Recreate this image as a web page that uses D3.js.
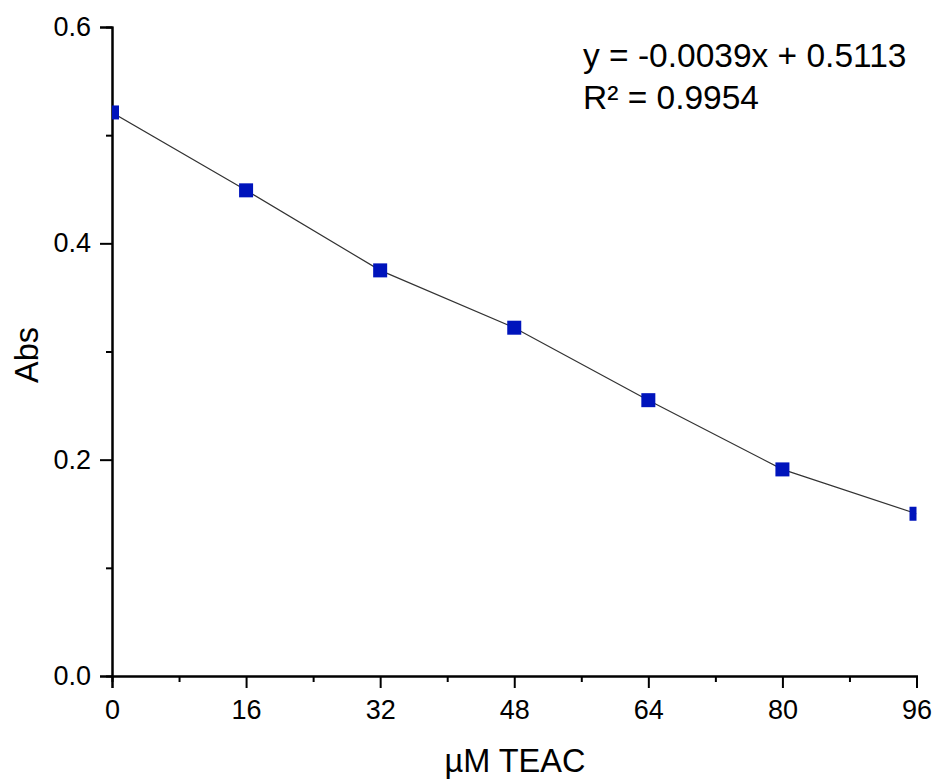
<!DOCTYPE html>
<html><head><meta charset="utf-8">
<script src="https://cdn.jsdelivr.net/npm/d3@7"></script>
<style>body{margin:0;background:#fff}svg{display:block}text{font-family:"Liberation Sans",Arial,sans-serif;fill:#000}</style>
</head><body>
<script>
const xValues = [0, 16, 32, 48, 64, 80, 96];
const absValues = [0.521, 0.449, 0.375, 0.322, 0.255, 0.191, 0.150];
const xTicks = [0, 16, 32, 48, 64, 80, 96];
const xMinorTicks = [8, 24, 40, 56, 72, 88];
const yTicks = [0.0, 0.2, 0.4, 0.6];
const yMinorTicks = [0.1, 0.3, 0.5];
const equationLines = ["y = -0.0039x + 0.5113", "R² = 0.9954"];

const W = 937, H = 781;
const svg = d3.select("body").append("svg").attr("width", W).attr("height", H);
const x = d3.scaleLinear().domain([0, 96]).range([112, 916.5]);
const y = d3.scaleLinear().domain([0, 0.6]).range([676, 27]);

svg.append("defs").append("clipPath").attr("id", "clip")
  .append("rect").attr("x", 112).attr("y", 20).attr("width", 916.5 - 112).attr("height", 676 - 20);

const gx = svg.append("g").attr("transform", "translate(0,676)")
  .call(d3.axisBottom(x).tickValues(xTicks).tickSize(12).tickPadding(12).tickFormat(d3.format("d")));
gx.append("g").call(d3.axisBottom(x).tickValues(xMinorTicks).tickSize(6).tickFormat(""));
const gy = svg.append("g").attr("transform", "translate(112,0)")
  .call(d3.axisLeft(y).tickValues(yTicks).tickSize(12).tickPadding(9).tickFormat(d3.format(".1f")));
gy.append("g").call(d3.axisLeft(y).tickValues(yMinorTicks).tickSize(6).tickFormat(""));

svg.selectAll(".domain").attr("stroke", "#000").attr("stroke-width", 2);
svg.selectAll(".tick line").attr("stroke", "#000").attr("stroke-width", 2);
svg.selectAll(".tick text").style("font-size", "27px").attr("fill", "#000");
gx.selectAll(".tick text").attr("dy", "0.71em");

const data = xValues.map((v, i) => ({x: v, y: absValues[i]}));
const plot = svg.append("g").attr("clip-path", "url(#clip)");
plot.append("path").datum(data)
  .attr("fill", "none").attr("stroke", "#333").attr("stroke-width", 1.2)
  .attr("d", d3.line().x(d => x(d.x)).y(d => y(d.y)));
const s = 14;
plot.selectAll("rect.pt").data(data).join("rect").attr("class", "pt")
  .attr("x", d => x(d.x) - s/2).attr("y", d => y(d.y) - s/2)
  .attr("width", s).attr("height", s).attr("fill", "#0014BC");

svg.append("text").attr("x", 515).attr("y", 772).attr("text-anchor", "middle")
  .style("font-size", "32.5px").text("µM TEAC");
svg.append("text").attr("transform", "translate(38,355) rotate(-90)").attr("text-anchor", "middle")
  .style("font-size", "32.5px").text("Abs");

svg.append("text").attr("x", 583).attr("y", 67).style("font-size", "33.5px").text(equationLines[0]);
svg.append("text").attr("x", 583).attr("y", 109).style("font-size", "33.5px").text(equationLines[1]);
</script>
</body></html>
